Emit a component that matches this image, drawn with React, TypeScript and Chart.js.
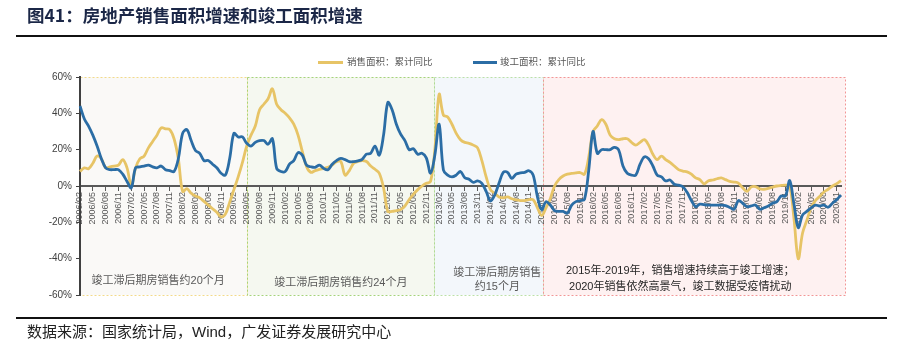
import React, { useEffect, useRef } from 'react';
import { Chart, registerables } from 'chart.js';

Chart.register(...registerables);

// Monthly categories 2006/02 … 2020/12
const FIRST_YEAR = 2006;
const LAST_YEAR = 2020;
const categories: string[] = [];
for (let yr = FIRST_YEAR; yr <= LAST_YEAR; yr++) {
  for (let m = yr === FIRST_YEAR ? 2 : 1; m <= 12; m++) {
    categories.push(`${yr}/${String(m).padStart(2, '0')}`);
  }
}

const yTicks = [-60, -40, -20, 0, 20, 40, 60];

// 销售面积：累计同比 (%)
const salesYoY = [
  // 2006 Feb-Dec
  8, 10, 9.5, 12.5, 16.5, 15, 10, 10.5, 11, 11.5, 14.5,
  // 2007
  10, 0, 10, 15, 16.5, 21, 24.5, 28, 32, 31.5, 31, 26,
  // 2008
  15, -3, -1.5, -4, -5.5, -6.5, -8.5, -10.5, -12.5, -14.5, -17, -15.5,
  // 2009
  -9, -2, 5, 13, 22, 28, 33, 42, 45, 48, 53.5, 45,
  // 2010
  42, 40, 37.5, 34, 28, 19, 10.6, 7.5, 8.5, 9.2, 9.7, 10.3,
  // 2011
  11.5, 13.4, 13.5, 6, 8.5, 12.5, 13.5, 14, 13.5, 11, 9.2, 7,
  // 2012
  -1, -14, -14, -13.5, -13, -11, -7.5, -4.5, -2, 0, 1.5, 2.5,
  // 2013
  20, 50.5, 39, 38, 34, 29, 25.5, 24, 23.5, 22.5, 21, 14,
  // 2014
  5, -2, -4, -6, -6.5, -6, -7, -7.7, -8, -8, -7.5, -7.6,
  // 2015
  -12, -16.3, -12, -7, 0, 3.5, 5.5, 6.5, 7, 7.2, 7.4, 6.5,
  // 2016
  16, 30, 33, 36.5, 34, 28, 26, 25.5, 26, 26, 24, 22.5,
  // 2017
  24, 25.5, 22.5, 17.5, 14.5, 16.5, 14.5, 13, 11, 9, 8.2, 7.8,
  // 2018
  6.5, 4.5, 3.5, 1.2, 2.9, 3.3, 4, 4.5, 3.5, 2.5, 2.2, 1.6,
  // 2019
  -1, -3, -0.5, -0.3, -1.6, -1.8, -1.3, -0.6, 0, 0.3, 0.5, 0,
  // 2020
  -18, -40, -26, -19, -12, -8, -5.8, -3.3, -1.8, 0, 1.3, 3,
];

// 竣工面积：累计同比 (%)
const completionYoY = [
  // 2006 Feb-Dec
  44, 37, 33, 28, 22, 15, 10, 9, 9, 9, 6.5,
  // 2007
  2.5, -1, 10, 10.5, 11, 11.5, 10.5, 10, 11, 9, 8.5, 8,
  // 2008
  15, 29, 31, 25, 19.5, 18, 14, 14, 12, 10, 7, 6,
  // 2009
  15, 29, 27, 27, 23.5, 22, 24, 25, 25, 23, 26, 9.7,
  // 2010
  8, 8, 12, 14, 18.4, 17, 11.5, 10.6, 10.3, 11.5, 9.7, 9,
  // 2011
  12, 14, 15.2, 14.5, 13.4, 13.4, 13.8, 14.7, 17.5, 18, 22, 17,
  // 2012
  28, 46, 42, 34, 28.5, 25, 20, 20.5, 17.5, 18, 15.5, 7,
  // 2013
  17, 34, 8.8, 6, 5, 6, 8, 4.5, 3.7, 2, 2.8, 1.5,
  // 2014
  -3, -8.3, -5, 1.5, 7.5, 7.5, 4.2, 6.5, 7.2, 7.5, 8.4, 6,
  // 2015
  -6, -13, -8.6, -10.5, -13.5, -14, -14, -15, -10.5, -8.6, -8, -7.3,
  // 2016
  8.8, 30, 18, 20, 20, 20, 21.3, 19.8, 11, 7, 6, 6,
  // 2017
  12, 16, 15, 11, 6, 5, 2.8, 3.3, 1, 0.5, -0.4, -3.5,
  // 2018
  -8, -11.4, -10, -10.3, -10.5, -10.5, -10.5, -10.5, -10.8, -11.8, -12.8, -8,
  // 2019
  -9.5, -11.4, -11, -10.5, -12.8, -12, -11, -9.5, -8.6, -5.5, -5.5, 3,
  // 2020
  -10, -22.9, -16, -14, -12, -10.5, -11, -10.5, -11.7, -9.5, -7.5, -5,
];

const SALES_LABEL = '销售面积：累计同比';
const COMPLETION_LABEL = '竣工面积：累计同比';

const YELLOW = '#E7C466';
const BLUE = '#2B6DA5';
const FONT = "'Liberation Sans', 'Noto Sans CJK SC', sans-serif";

// Shaded periods (category index positions)
const REGIONS = [
  { from: 0, to: 39, fill: '#FAF9F7', stroke: '#F3DA8A' },
  { from: 39, to: 82.8, fill: '#F5F8F0', stroke: '#A5D37A' },
  { from: 82.8, to: 108.3, fill: '#F3F7FB', stroke: '#BCE0A8' },
  { from: 108.3, to: 179, fill: '#FEF1F1', stroke: '#F29696' },
];

const NOTES = [
  { idx: 18.3, vals: [-52.3], lines: ['竣工滞后期房销售约20个月'], color: '#595959' },
  { idx: 61, vals: [-53.4], lines: ['竣工滞后期房销售约24个月'], color: '#595959' },
  { idx: 97.6, vals: [-47.9, -55.6], lines: ['竣工滞后期房销售', '约15个月'], color: '#595959' },
  {
    idx: 140.4,
    vals: [-46.8, -55.6],
    lines: ['2015年-2019年，销售增速持续高于竣工增速；', '2020年销售依然高景气，竣工数据受疫情扰动'],
    color: '#262626',
  },
];

const regionPlugin = {
  id: 'regions',
  beforeDraw(chart: any) {
    const { ctx, scales } = chart;
    const x = scales.x;
    const y = scales.y;
    const top = y.getPixelForValue(60);
    const bot = y.getPixelForValue(-60);
    ctx.save();
    REGIONS.forEach((r) => {
      const x0 = x.getPixelForValue(r.from);
      const x1 = x.getPixelForValue(r.to);
      ctx.fillStyle = r.fill;
      ctx.fillRect(x0, top, x1 - x0, bot - top);
    });
    ctx.lineWidth = 1;
    ctx.setLineDash([2, 2]);
    REGIONS.forEach((r) => {
      const x0 = Math.round(x.getPixelForValue(r.from)) + 0.5;
      const x1 = Math.round(x.getPixelForValue(r.to)) + 0.5;
      ctx.strokeStyle = r.stroke;
      ctx.strokeRect(x0, Math.round(top) + 0.5, x1 - x0, Math.round(bot - top));
    });
    ctx.setLineDash([]);
    ctx.textAlign = 'center';
    ctx.textBaseline = 'middle';
    ctx.font = `11px ${FONT}`;
    NOTES.forEach((n) => {
      ctx.fillStyle = n.color;
      n.lines.forEach((t, i) => {
        ctx.fillText(t, x.getPixelForValue(n.idx), y.getPixelForValue(n.vals[i]));
      });
    });
    ctx.restore();
  },
};

export default function App() {
  const ref = useRef<HTMLCanvasElement>(null);
  useEffect(() => {
    Chart.defaults.font.family = FONT;
    const chart = new Chart(ref.current as HTMLCanvasElement, {
      type: 'line',
      data: {
        labels: categories,
        datasets: [
          {
            label: COMPLETION_LABEL,
            data: completionYoY,
            borderColor: BLUE,
            backgroundColor: BLUE,
            borderWidth: 2.8,
            pointRadius: 0,
            tension: 0.35,
            fill: false,
          },
          {
            label: SALES_LABEL,
            data: salesYoY,
            borderColor: YELLOW,
            backgroundColor: YELLOW,
            borderWidth: 2.8,
            pointRadius: 0,
            tension: 0.35,
            fill: false,
          },
        ],
      },
      plugins: [regionPlugin],
      options: {
        responsive: false,
        animation: false,
        layout: { padding: { left: 30, right: 62, top: 77, bottom: 53 } },
        plugins: { legend: { display: false }, tooltip: { enabled: false } },
        scales: {
          x: {
            type: 'category',
            position: { y: 0 } as any,
            afterFit: (s: any) => {
              s.height = 0;
            },
            grid: { drawOnChartArea: false, drawTicks: true, tickLength: 4, color: '#595959', lineWidth: 1 },
            border: { display: true, color: '#595959', width: 2 },
            ticks: {
              autoSkip: false,
              minRotation: 90,
              maxRotation: 90,
              padding: 2,
              color: '#595959',
              font: { size: 9 },
              callback: (_v: any, i: number) => (i % 3 === 0 ? categories[i] : null),
            },
          },
          y: {
            min: yTicks[0],
            max: yTicks[yTicks.length - 1],
            afterFit: (s: any) => {
              s.width = 50;
            },
            afterBuildTicks: (s: any) => {
              s.ticks = yTicks.map((v) => ({ value: v }));
            },
            ticks: {
              callback: (v: any) => `${v}%`,
              color: '#404040',
              font: { size: 10 },
              padding: 4,
            },
            grid: { drawOnChartArea: false, drawTicks: true, tickLength: 4, color: '#404040' },
            border: { display: true, color: '#404040', width: 2 },
          },
        },
      },
    });
    return () => chart.destroy();
  }, []);

  return (
    <div
      style={{
        position: 'absolute',
        left: 0,
        top: 0,
        width: 903,
        height: 348,
        background: '#fff',
        fontFamily: FONT,
        overflow: 'hidden',
      }}
    >
      <canvas ref={ref} width={903} height={348} style={{ position: 'absolute', left: 0, top: 0 }} />
      <div
        style={{
          position: 'absolute',
          left: 27,
          top: 5,
          fontSize: 17.5,
          lineHeight: '20px',
          fontWeight: 700,
          color: '#1B2747',
          fontFamily: "'Noto Sans CJK SC', sans-serif",
          whiteSpace: 'nowrap',
        }}
      >
        图41：房地产销售面积增速和竣工面积增速
      </div>
      <div style={{ position: 'absolute', left: 16, top: 35, width: 871, height: 1.5, background: '#111' }} />
      <div style={{ position: 'absolute', left: 318, top: 61, width: 25, height: 2.5, background: YELLOW }} />
      <div
        style={{
          position: 'absolute',
          left: 347,
          top: 55,
          fontSize: 9.5,
          lineHeight: '14px',
          color: '#595959',
          whiteSpace: 'nowrap',
        }}
      >
        {SALES_LABEL}
      </div>
      <div style={{ position: 'absolute', left: 473, top: 61, width: 24, height: 2.5, background: BLUE }} />
      <div
        style={{
          position: 'absolute',
          left: 500,
          top: 55,
          fontSize: 9.5,
          lineHeight: '14px',
          color: '#595959',
          whiteSpace: 'nowrap',
        }}
      >
        {COMPLETION_LABEL}
      </div>
      <div style={{ position: 'absolute', left: 16, top: 317, width: 871, height: 1.5, background: '#111' }} />
      <div
        style={{
          position: 'absolute',
          left: 27,
          top: 323,
          fontSize: 15,
          lineHeight: '18px',
          color: '#222',
          whiteSpace: 'nowrap',
        }}
      >
        数据来源：国家统计局，Wind，广发证券发展研究中心
      </div>
    </div>
  );
}
